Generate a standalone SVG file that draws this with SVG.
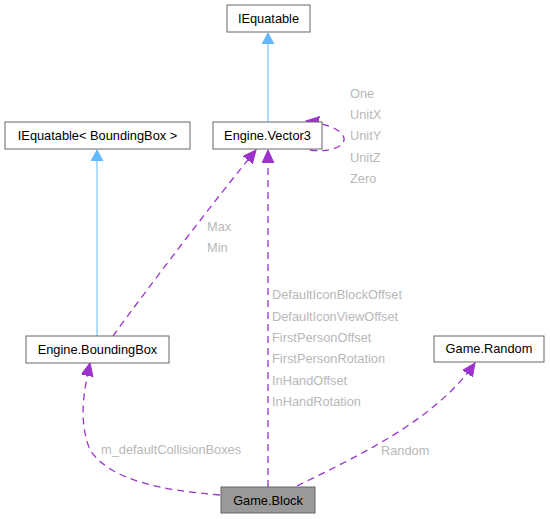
<svg xmlns="http://www.w3.org/2000/svg" width="550" height="519" viewBox="0 0 550 519">
<style>
text{font-family:"Liberation Sans",Arial,sans-serif;font-size:12.8px}
.n rect{fill:#fff;stroke:#666;stroke-width:1}
.n text{fill:#000;text-anchor:middle}
.lbl{fill:#b8b8b8}
.inh{fill:none;stroke:#63b8ff;stroke-width:1}
.use{fill:none;stroke:#9a32cd;stroke-width:1.3;stroke-dasharray:7,5}
</style>
<defs>
<marker id="ab" markerWidth="12" markerHeight="14" refX="11" refY="6" orient="auto" markerUnits="userSpaceOnUse"><path d="M0,0 L11,6 L0,12 Z" fill="#63b8ff" stroke="#63b8ff"/></marker>
<marker id="ap" markerWidth="14" markerHeight="14" refX="13" refY="6" orient="auto" markerUnits="userSpaceOnUse"><path d="M0,0 L13,6 L0,12 Z" fill="#9a32cd" stroke="#9a32cd"/></marker>
</defs>
<g id="edges">
<path class="inh" d="M268,122 L268,33" marker-end="url(#ab)"/>
<path class="inh" d="M97,336 L97,150" marker-end="url(#ab)"/>
<path class="use" d="M113,336 C150,285 215,200 256,150" marker-end="url(#ap)"/>
<path class="use" d="M268,487 L268,150" marker-end="url(#ap)"/>
<path class="use" d="M310,150 C350,155 362,128 306,121" marker-end="url(#ap)"/>
<path class="use" d="M297,486 C360,455 435,420 475,363" marker-end="url(#ap)"/>
<path class="use" d="M220,495 C160,490 110,480 90,450 C78,420 84,390 90,363" marker-end="url(#ap)"/>
<text class="lbl" x="350" y="98">One</text>
<text class="lbl" x="350" y="119">UnitX</text>
<text class="lbl" x="350" y="140">UnitY</text>
<text class="lbl" x="350" y="162">UnitZ</text>
<text class="lbl" x="350" y="183">Zero</text>
<text class="lbl" x="207" y="231">Max</text>
<text class="lbl" x="207" y="252">Min</text>
<text class="lbl" x="272" y="299">DefaultIconBlockOffset</text>
<text class="lbl" x="272" y="321">DefaultIconViewOffset</text>
<text class="lbl" x="272" y="342">FirstPersonOffset</text>
<text class="lbl" x="272" y="363">FirstPersonRotation</text>
<text class="lbl" x="272" y="385">InHandOffset</text>
<text class="lbl" x="272" y="406">InHandRotation</text>
<text class="lbl" x="381" y="455">Random</text>
<text class="lbl" x="101" y="454">m_defaultCollisionBoxes</text>
</g>
<g id="IEquatable" class="n"><rect x="227" y="5" width="83" height="27"/><text x="268.5" y="23">IEquatable</text></g>
<g id="Vector3" class="n"><rect x="213" y="122" width="109" height="27"/><text x="267.5" y="140">Engine.Vector3</text></g>
<g id="IEquatableBB" class="n"><rect x="5" y="122" width="185" height="27"/><text x="97.5" y="140">IEquatable&lt; BoundingBox &gt;</text></g>
<g id="BoundingBox" class="n"><rect x="26" y="336" width="143" height="27"/><text x="97.5" y="354">Engine.BoundingBox</text></g>
<g id="Random" class="n"><rect x="434" y="336" width="110" height="26"/><text x="489" y="353">Game.Random</text></g>
<g id="Block" class="n"><rect x="221" y="487" width="94" height="26" style="fill:#999"/><text x="268" y="505">Game.Block</text></g>
</svg>
